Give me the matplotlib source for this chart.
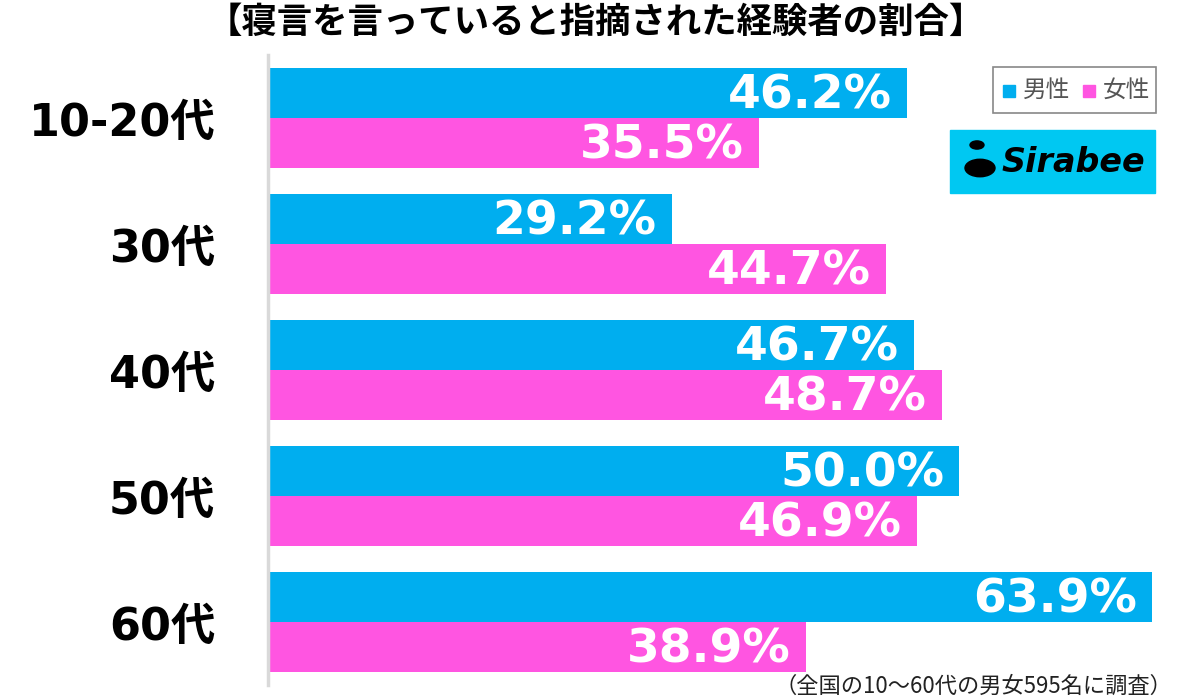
import matplotlib
matplotlib.use("Agg")
import matplotlib.pyplot as plt
import matplotlib.patches as mpatches
import numpy as np

plt.rcParams['font.family'] = ['Noto Sans CJK JP', 'DejaVu Sans']

categories = ["10-20代", "30代", "40代", "50代", "60代"]
male = [46.2, 29.2, 46.7, 50.0, 63.9]
female = [35.5, 44.7, 48.7, 46.9, 38.9]
series_names = ["男性", "女性"]
title = "【寝言を言っていると指摘された経験者の割合】"
note = "（全国の10〜60代の男女595名に調査）"

BLUE = "#00AEEF"
PINK = "#FF55E1"

fig = plt.figure(figsize=(12, 6.99), dpi=100)
W, H = 1200, 699
ax = fig.add_axes([268 / W, (H - 685) / H, (1185 - 268) / W, 630 / H])

y = np.arange(len(categories))
h = 0.397
ax.barh(y - h / 2, male, height=h, color=BLUE)
ax.barh(y + h / 2, female, height=h, color=PINK)

ax.set_xlim(0, (1185 - 268) / 13.83)
ax.set_ylim(len(categories) - 0.5, -0.5)
for s in ["top", "right", "bottom"]:
    ax.spines[s].set_visible(False)
ax.spines["left"].set_color("#d9d9d9")
ax.spines["left"].set_linewidth(2.5)
ax.set_xticks([])
ax.set_yticks([])

off = 1.1
dy = 0.025
for i in range(len(categories)):
    ax.text(male[i] - off, i - h / 2 + dy, f"{male[i]:.1f}%", ha="right", va="center",
            color="white", fontsize=34, fontweight="bold",
            family=["DejaVu Sans"])
    ax.text(female[i] - off, i + h / 2 + dy, f"{female[i]:.1f}%", ha="right", va="center",
            color="white", fontsize=34, fontweight="bold",
            family=["DejaVu Sans"])
    ax.text(-3.8, i + 0.04, categories[i], ha="right", va="center", color="black",
            fontsize=32, fontweight="bold",
            family=["DejaVu Sans", "Noto Sans CJK JP"])

fig.text(596 / W, 1 - 22 / H, title, ha="center", va="center",
         fontsize=25.5, fontweight="bold", color="black")

# legend box
fig.patches.append(mpatches.Rectangle((993 / W, 1 - 113 / H), 163 / W, 46 / H,
                                      transform=fig.transFigure, fill=False,
                                      edgecolor="#888888", linewidth=1.2))
for k, (name, col) in enumerate(zip(series_names, [BLUE, PINK])):
    x0 = 1003 + k * 80
    fig.patches.append(mpatches.Rectangle((x0 / W, 1 - 97 / H), 12 / W, 12 / H,
                                          transform=fig.transFigure,
                                          color=col))
    fig.text((x0 + 20) / W, 1 - 90 / H, name, ha="left", va="center",
             fontsize=17, color="#555555")

# logo
fig.patches.append(mpatches.Rectangle((950 / W, 1 - 193 / H), 205 / W, 63 / H,
                                      transform=fig.transFigure,
                                      color="#00C8F2"))
fig.patches.append(mpatches.Circle((980 / W, 1 - 168 / H), 15 / W,
                                   transform=fig.transFigure, color="black"))
fig.patches.append(mpatches.Circle((977 / W, 1 - 145 / H), 7 / W,
                                   transform=fig.transFigure, color="black"))
fig.text(1002 / W, 1 - 163 / H, "Sirabee", ha="left", va="center",
         fontsize=24, fontweight="bold", style="italic", color="black",
         family=["DejaVu Sans"])

fig.text(1172 / W, 1 - 686 / H, note, ha="right", va="center",
         fontsize=16, color="#222222")

fig.savefig("out.png", dpi=100)
